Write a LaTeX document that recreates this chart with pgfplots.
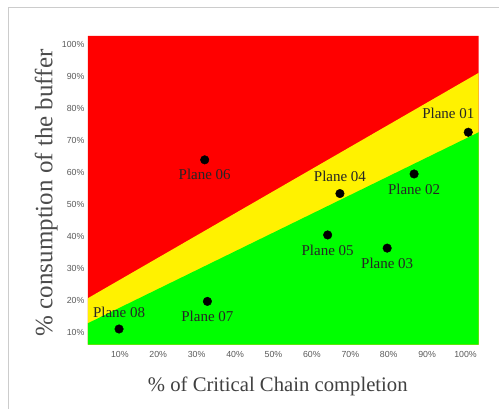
\documentclass[border=0pt]{standalone}
\usepackage{fontspec}
\setmainfont{Liberation Serif}
\newfontfamily\tickfont{Liberation Sans}
\usepackage{pgfplots}
\pgfplotsset{compat=1.18}
\begin{document}
\begin{tikzpicture}
\path (0pt,0pt) rectangle (499pt,409pt);
\draw[gray!40, line width=0.8pt] (8pt,0pt) -- (8pt,402pt) -- (499pt,402pt);
\begin{axis}[
  at={(88pt,64pt)}, anchor=south west,
  scale only axis, width=391pt, height=309pt,
  xmin=1.7, xmax=103.4, ymin=6.3, ymax=102.5,
  axis line style={draw=none},
  major tick length=0pt,
  xtick={10,20,...,100}, ytick={10,20,...,100},
  xticklabel={\pgfmathprintnumber{\tick}\%},
  yticklabel={\pgfmathprintnumber{\tick}\%},
  /pgf/number format/assume math mode=true,
  tick label style={font=\tickfont\fontsize{8.8}{9}\selectfont, text=black!65},
  xticklabel style={yshift=-3pt},
  yticklabel style={xshift=0pt},
  xlabel={\% of Critical Chain completion},
  ylabel={\% consumption of the buffer},
  xlabel style={at={(rel axis cs:0.486,-0.136)}, anchor=center, font=\fontsize{20.7}{22}\selectfont, text=black!75},
  ylabel style={at={(rel axis cs:-0.107,0.492)}, anchor=center, rotate=0, font=\fontsize{25}{27}\selectfont, text=black!70},
  clip=true,
]
\addplot[draw=none, fill=red] coordinates {(1.7,6.3) (1.7,102.5) (103.4,102.5) (103.4,6.3)} \closedcycle;
\addplot[draw=none, fill=yellow] coordinates {(1.7,6.3) (1.7,20.8) (103.4,91) (103.4,6.3)} \closedcycle;
\addplot[draw=none, fill=green] coordinates {(1.7,6.3) (1.7,13) (103.4,72.5) (103.4,6.3)} \closedcycle;
% points with labels below
\addplot[only marks, mark=*, mark size=4.3pt, black,
  point meta=explicit symbolic,
  nodes near coords, every node near coord/.style={anchor=center, yshift=-15pt, font=\fontsize{15}{16}\selectfont, text=black!85}]
  table[meta=label] {
x y label
86.6 59.5 {Plane 02}
79.6 36.4 {Plane 03}
64.1 40.5 {Plane 05}
32.1 63.9 {Plane 06}
32.8 19.8 {Plane 07}
};
% points with labels above
\addplot[only marks, mark=*, mark size=4.3pt, black,
  point meta=explicit symbolic,
  nodes near coords, every node near coord/.style={anchor=center, yshift=17pt, font=\fontsize{15}{16}\selectfont, text=black!85}]
  table[meta=label] {
x y label
67.3 53.4 {Plane 04}
9.8 11.2 {Plane 08}
};
\addplot[only marks, mark=*, mark size=4.3pt, black,
  point meta=explicit symbolic,
  nodes near coords, every node near coord/.style={anchor=center, yshift=19pt, xshift=-20pt, font=\fontsize{15}{16}\selectfont, text=black!85}]
  table[meta=label] {
x y label
100.7 72.5 {Plane 01}
};
\end{axis}
\end{tikzpicture}
\end{document}
